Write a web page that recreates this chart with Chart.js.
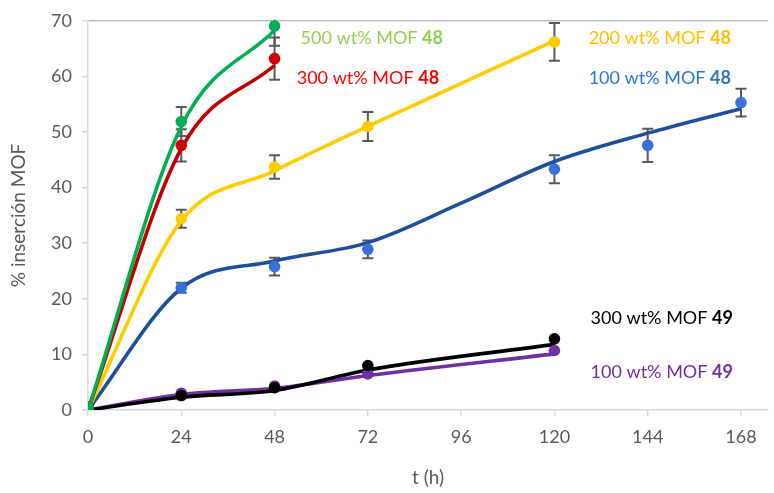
<!DOCTYPE html>
<html>
<head>
<meta charset="utf-8">
<script src="https://cdn.jsdelivr.net/npm/chart.js@4.4.0/dist/chart.umd.min.js"></script>
<style>
  html, body { margin: 0; padding: 0; background: #fff; }
  #wrap { width: 774px; height: 493px; position: relative; }
</style>
</head>
<body>
<div id="wrap"><canvas id="grafica"></canvas></div>
<script>
/********** Datos *****************************************/
const xTicks = [0, 24, 48, 72, 96, 120, 144, 168];

// puntos experimentales (h, %) y barras de error
const tShort = [0, 24, 48];
const tMid = [0, 24, 48, 72, 120];
const tLong = [0, 24, 48, 72, 120, 144, 168];

const mof48_500 = [0.5, 51.9, 69.1];
const mof48_500Err = [0, 2.6, 3.6];
const mof48_300 = [0.5, 47.6, 63.2];
const mof48_300Err = [0, 2.9, 3.8];
const mof48_200 = [0.5, 34.4, 43.7, 51.0, 66.2];
const mof48_200Err = [0, 1.6, 2.1, 2.6, 3.4];
const mof48_100 = [0.4, 22.0, 25.8, 28.9, 43.3, 47.6, 55.3];
const mof48_100Err = [0, 0.9, 1.6, 1.6, 2.5, 3.0, 2.5];
const mof49_300 = [0.5, 2.6, 4.0, 8.0, 12.8];
const mof49_100 = [0.5, 3.0, 4.3, 6.5, 10.7];

// curvas de tendencia
const tFitBlue = [0, 24, 48, 72, 96, 120, 144, 168];
const fit48_500 = [0, 51.0, 68.3];
const fit48_300 = [0, 47.0, 62.0];
const fit48_200 = [0, 34.0, 43.0, 51.0, 66.4];
const fit48_100 = [0, 21.9, 26.8, 30.1, 37.2, 44.7, 49.8, 54.2];
const fit49_300 = [0, 2.3, 3.5, 7.2, 11.8];
const fit49_100 = [0, 2.8, 3.9, 6.2, 10.1];

const FONT = 'Lato, "Open Sans", sans-serif';
const GRIS = '#595959';

const pares = (xs, ys) => xs.map((x, i) => ({x: x, y: ys[i]}));

const linea = (xs, ys, color) => ({
  data: pares(xs, ys),
  showLine: true,
  borderColor: color,
  borderWidth: 3.6,
  pointRadius: 0,
  cubicInterpolationMode: 'monotone',
  order: 2
});

const puntos = (xs, ys, color, err) => ({
  data: pares(xs, ys),
  showLine: false,
  backgroundColor: color,
  borderColor: color,
  pointRadius: 5.8,
  pointBorderWidth: 0,
  errores: err,
  order: 1
});

/********* Plugin: barras de error ********************/
const barrasError = {
  id: 'barrasError',
  beforeDatasetsDraw(chart) {
    const ctx = chart.ctx;
    const y = chart.scales.y;
    const area = chart.chartArea;
    ctx.save();
    ctx.beginPath();
    ctx.rect(area.left, area.top - 1, area.right - area.left, area.bottom - area.top + 2);
    ctx.clip();
    ctx.strokeStyle = GRIS;
    ctx.lineWidth = 2;
    chart.data.datasets.forEach((ds, i) => {
      if (!ds.errores) return;
      const meta = chart.getDatasetMeta(i);
      meta.data.forEach((pt, j) => {
        const e = ds.errores[j];
        if (!e) return;
        const v = ds.data[j].y;
        const yTop = y.getPixelForValue(v + e);
        const yBot = y.getPixelForValue(v - e);
        ctx.beginPath();
        ctx.moveTo(pt.x, yTop); ctx.lineTo(pt.x, yBot);
        ctx.moveTo(pt.x - 5.5, yTop); ctx.lineTo(pt.x + 5.5, yTop);
        ctx.moveTo(pt.x - 5.5, yBot); ctx.lineTo(pt.x + 5.5, yBot);
        ctx.stroke();
      });
    });
    ctx.restore();
  }
};

/********* Plugin: etiquetas de series ********************/
const etiquetas = [
  {x: 54.7, y: 66.8, texto: '500 wt% MOF ', num: '48', color: '#92D050'},
  {x: 53.7, y: 59.6, texto: '300 wt% MOF ', num: '48', color: '#FF0000'},
  {x: 128.8, y: 66.8, texto: '200 wt% MOF ', num: '48', color: '#FFC000'},
  {x: 128.8, y: 59.6, texto: '100 wt% MOF ', num: '48', color: '#2E75D6', colorNum: '#2E75B6'},
  {x: 129.3, y: 16.6, texto: '300 wt% MOF ', num: '49', color: '#000000'},
  {x: 129.3, y: 6.8, texto: '100 wt% MOF ', num: '49', color: '#7030A0'}
];

const rotulos = {
  id: 'rotulos',
  afterDatasetsDraw(chart) {
    const ctx = chart.ctx;
    const sx = chart.scales.x, sy = chart.scales.y;
    ctx.save();
    ctx.textBaseline = 'middle';
    ctx.textAlign = 'left';
    etiquetas.forEach(et => {
      const px = sx.getPixelForValue(et.x);
      const py = sy.getPixelForValue(et.y);
      ctx.font = '18px ' + FONT;
      ctx.fillStyle = et.color;
      ctx.fillText(et.texto, px, py);
      const w = ctx.measureText(et.texto).width;
      ctx.font = 'bold 18px ' + FONT;
      ctx.fillStyle = et.colorNum || et.color;
      ctx.fillText(et.num, px + w, py);
    });
    ctx.restore();
  }
};

new Chart(document.getElementById('grafica'), {
  type: 'scatter',
  data: {
    datasets: [
      linea(tShort, fit48_500, '#00B050'),
      linea(tShort, fit48_300, '#C00000'),
      linea(tMid, fit48_200, '#FFCC00'),
      linea(tFitBlue, fit48_100, '#1F4E9A'),
      linea(tMid, fit49_300, '#000000'),
      linea(tMid, fit49_100, '#7030A0'),
      puntos(tShort, mof48_500, '#00B050', mof48_500Err),
      puntos(tShort, mof48_300, '#D00000', mof48_300Err),
      puntos(tMid, mof48_200, '#FFCC00', mof48_200Err),
      puntos(tLong, mof48_100, '#3A6FD8', mof48_100Err),
      puntos(tMid, mof49_300, '#000000'),
      puntos(tMid, mof49_100, '#7030A0')
    ]
  },
  plugins: [barrasError, rotulos],
  options: {
    responsive: true,
    maintainAspectRatio: false,
    animation: false,
    layout: {padding: {top: 18, right: 0, left: 3, bottom: 0}},
    plugins: {
      legend: {display: false},
      tooltip: {enabled: false}
    },
    scales: {
      x: {
        type: 'linear',
        min: 0,
        max: 175,
        afterBuildTicks: (axis) => { axis.ticks = xTicks.map(v => ({value: v})); },
        afterFit: (axis) => { axis.height = 83; },
        border: {color: '#d9d9d9', width: 1.5},
        grid: {drawOnChartArea: false, tickLength: 6, color: '#d9d9d9', lineWidth: 1.5},
        ticks: {color: GRIS, font: {family: FONT, size: 18}, padding: 10, maxRotation: 0},
        title: {display: true, text: 't (h)', color: GRIS, font: {family: FONT, size: 19}, padding: {top: 14}}
      },
      y: {
        min: 0,
        max: 70,
        ticks: {stepSize: 10, color: GRIS, font: {family: FONT, size: 18}, padding: 10},
        afterFit: (axis) => { axis.width = 85; },
        border: {color: '#d9d9d9', width: 1.5},
        grid: {
          drawOnChartArea: true,
          tickLength: 6,
          tickColor: '#d9d9d9',
          lineWidth: 1.5,
          color: (c) => c.tick && c.tick.value === 70 ? '#bfbfbf' : 'rgba(0,0,0,0)'
        },
        title: {display: true, text: '% inserción MOF', color: GRIS, font: {family: FONT, size: 19}, padding: {bottom: 4}}
      }
    }
  }
});
</script>
</body>
</html>
